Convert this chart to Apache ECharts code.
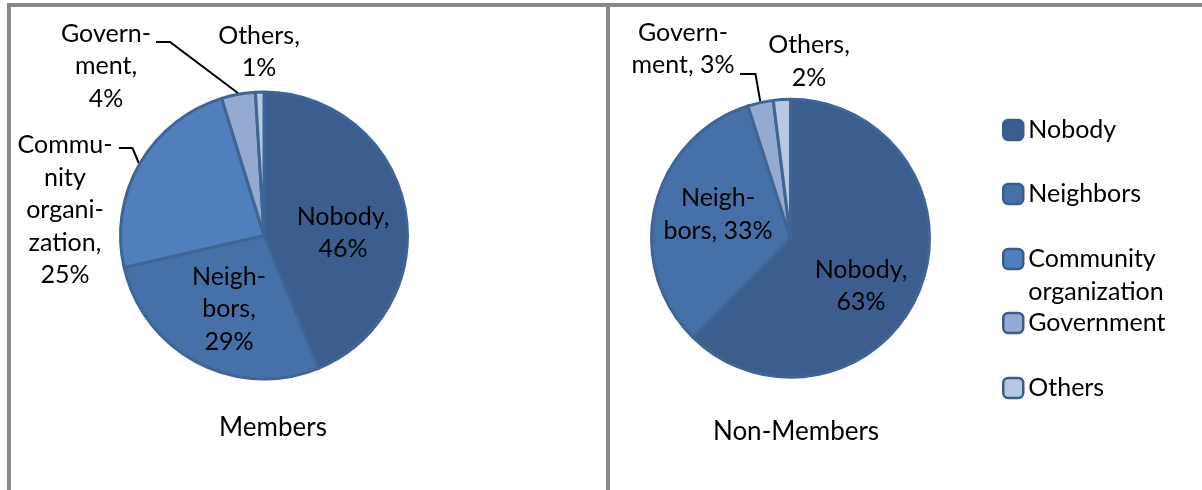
<!DOCTYPE html>
<html>
<head>
<meta charset="utf-8">
<title>Who helps: Members vs Non-Members</title>
<script src="https://cdn.jsdelivr.net/npm/echarts@6/dist/echarts.min.js"></script>
<style>
  html, body { margin: 0; padding: 0; background: #ffffff; }
  #chart { width: 1202px; height: 490px; }
</style>
</head>
<body>
<div id="chart"></div>
<script>
// ---- data ----
const categories = ['Nobody', 'Neighbors', 'Community organization', 'Government', 'Others'];
const membersShare = [46, 29, 25, 4, 1];
const nonMembersShare = [63, 33, 0, 3, 2];
const groupTitles = ['Members', 'Non-Members'];

// wrapped slice-label text; the value and % sign are appended
const membersLabelText = ['Nobody,\n', 'Neigh-\nbors,\n', 'Commu-\nnity\norgani-\nzation,\n', 'Govern-\nment,\n', 'Others,\n'];
const nonMembersLabelText = ['Nobody,\n', 'Neigh-\nbors, ', 'Community\norganization, ', 'Govern-\nment, ', 'Others,\n'];
const legendText = ['Nobody', 'Neighbors', 'Community\norganization', 'Government', 'Others'];

// ---- styling / layout ----
const sliceColors = ['#3b5e8e', '#4571a8', '#4f80bd', '#95aad0', '#b9c8e2'];
const FONT = 'Lato, "Open Sans", sans-serif';
const LINE_H = 32.5;

// label anchors are offsets from each pie's centre; guide = elbow and end of the leader line
const pieLayouts = [
  {
    center: [264, 235.5], radius: 143.5, titleY: 428, titleX: 273,
    labels: {
      'Nobody': { at: [79, -2.5], inside: true },
      'Neighbors': { at: [-35, 73.5], inside: true },
      'Community organization': { at: [-199, -25.5], guide: [[-131.5, -87.5], [-145, -87.5]] },
      'Government': { at: [-158, -169.5], guide: [[-94, -193.5], [-108, -193.5]] },
      'Others': { at: [-5, -183.5] }
    }
  },
  {
    center: [790.5, 238.3], radius: 139, titleY: 432, titleX: 796,
    labels: {
      'Nobody': { at: [70.5, 47.7], inside: true },
      'Neighbors': { at: [-72.5, -23.8], inside: true },
      'Community organization': { at: [0, 0] },
      'Government': { at: [-107.5, -189.3], guide: [[-35, -164.3], [-50.5, -164.3]] },
      'Others': { at: [18.5, -176.8] }
    }
  }
];
// vertical centre of each legend swatch
const legendCenters = [130, 194, 259, 323, 388];

const groups = [
  { values: membersShare, text: membersLabelText },
  { values: nonMembersShare, text: nonMembersLabelText }
];

function buildSeries(g, gi) {
  const layout = pieLayouts[gi];
  const items = [];
  categories.forEach((name, i) => {
    if (g.values[i] <= 0) return;
    const lab = layout.labels[name];
    items.push({
      name: name,
      value: g.values[i],
      itemStyle: { color: sliceColors[i] },
      label: {
        position: lab.inside ? 'inside' : 'outside',
        formatter: g.text[i] + g.values[i] + '%'
      },
      labelLine: { show: !!lab.guide }
    });
  });
  const total = items.reduce((s, d) => s + d.value, 0);
  const [cx, cy] = layout.center;

  return {
    type: 'pie',
    name: groupTitles[gi],
    center: layout.center,
    radius: layout.radius,
    startAngle: 90,
    clockwise: true,
    avoidLabelOverlap: false,
    animation: false,
    silent: true,
    emphasis: { disabled: true },
    itemStyle: { borderColor: '#3f6596', borderWidth: 3 },
    label: {
      show: true,
      color: '#000000',
      fontFamily: FONT,
      fontSize: 25,
      lineHeight: LINE_H,
      align: 'center'
    },
    labelLine: {
      show: false,
      lineStyle: { color: '#000000', width: 2 }
    },
    labelLayout: function (params) {
      const d = items[params.dataIndex];
      const lab = layout.labels[d.name];
      const out = {
        x: cx + lab.at[0],
        y: cy + lab.at[1],
        align: 'center',
        verticalAlign: 'middle'
      };
      if (lab.guide) {
        // start the leader at the outer edge, mid-angle of the slice
        let before = 0;
        for (let k = 0; k < params.dataIndex; k++) before += items[k].value;
        const theta = 2 * Math.PI * (before + d.value / 2) / total;
        const r = layout.radius + 1;
        out.labelLinePoints = [
          [cx + r * Math.sin(theta), cy - r * Math.cos(theta)],
          [cx + lab.guide[0][0], cy + lab.guide[0][1]],
          [cx + lab.guide[1][0], cy + lab.guide[1][1]]
        ];
      }
      return out;
    },
    data: items
  };
}

const legends = categories.map((name, i) => {
  const twoLine = legendText[i].indexOf('\n') >= 0;
  return {
    data: [name],
    orient: 'vertical',
    left: 1002,
    top: twoLine ? legendCenters[i] - 49.5 : legendCenters[i] - 16,
    padding: 0,
    itemWidth: 20,
    itemHeight: 20,
    icon: 'roundRect',
    selectedMode: false,
    itemStyle: { borderColor: '#3a5c8b', borderWidth: 2.5 },
    textStyle: {
      color: '#000000',
      fontFamily: FONT,
      fontSize: 25,
      lineHeight: twoLine ? 33 : 32
    },
    // a leading blank line keeps the swatch level with the first text line
    formatter: () => (twoLine ? ' \n' : '') + legendText[i]
  };
});

const option = {
  backgroundColor: '#ffffff',
  animation: false,
  title: groupTitles.map((t, gi) => ({
    text: t,
    left: pieLayouts[gi].titleX,
    top: pieLayouts[gi].titleY - 16,
    textAlign: 'center',
    padding: 0,
    textStyle: {
      color: '#000000',
      fontFamily: FONT,
      fontSize: 26,
      fontWeight: 'normal',
      lineHeight: 32
    }
  })),
  legend: legends,
  graphic: [
    { type: 'rect', silent: true, shape: { x: 7, y: 3, width: 1195, height: 4 }, style: { fill: '#898989' } },
    { type: 'rect', silent: true, shape: { x: 7, y: 3, width: 4, height: 487 }, style: { fill: '#898989' } },
    { type: 'rect', silent: true, shape: { x: 606, y: 3, width: 4, height: 487 }, style: { fill: '#898989' } }
  ],
  series: groups.map(buildSeries)
};

const chart = echarts.init(document.getElementById('chart'), null, { renderer: 'canvas' });
chart.setOption(option);
</script>
</body>
</html>
